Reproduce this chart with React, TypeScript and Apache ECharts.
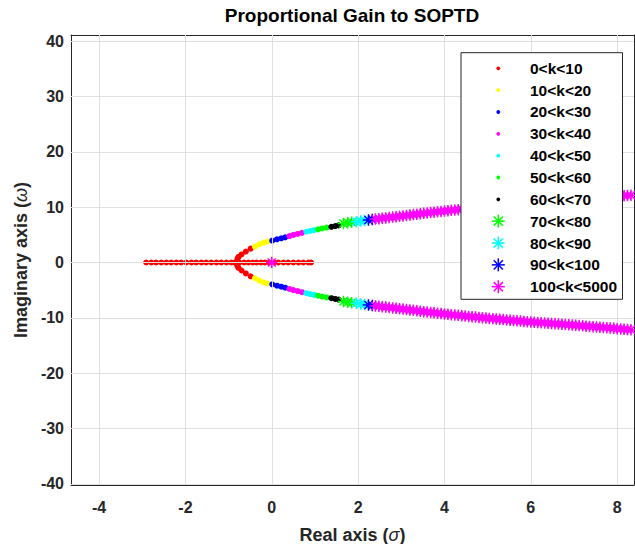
import React, { useEffect, useRef } from "react";
import * as echarts from "echarts";

// ---- axis ranges & ticks ----
const X_MIN = -4.65;
const X_MAX = 8.39;
const Y_MIN = -40.2;
const Y_MAX = 41.1;
const xTicks = [-4, -2, 0, 2, 4, 6, 8];
const yTicks = [-40, -30, -20, -10, 0, 10, 20, 30, 40];

// ---- legend / groups ----
const groupNames = [
  "0<k<10", "10<k<20", "20<k<30", "30<k<40", "40<k<50", "50<k<60",
  "60<k<70", "70<k<80", "80<k<90", "90<k<100", "100<k<5000",
];
const groupColors = [
  "#ff0000", "#ffff00", "#0000ff", "#ff00ff", "#00ffff", "#00ff00",
  "#000000", "#00ff00", "#00ffff", "#0000ff", "#ff00ff",
];
const groupMarkers = ["dot", "dot", "dot", "dot", "dot", "dot", "dot", "star", "star", "star", "star"];

// ---- root locus points (real part, imaginary part) ----
// 0<k<10
const reK0 = [
  -2.91, -2.79, -2.68, -2.56, -2.44, -2.33, -2.21, -2.1, -1.98, -1.86, -1.75, -1.63, -1.52, -1.4, -1.28, -1.17, -1.05, -0.94, -0.86,
  -0.82, -0.8, -0.8, -0.79, -0.79, -0.77, -0.77, -0.75, -0.7, -0.7, -0.6, -0.6, -0.49, -0.49,
  -0.64, -0.54, -0.44, -0.35, -0.25, -0.16, -0.06, 0.05, 0.15, 0.27, 0.38, 0.5, 0.62, 0.73, 0.85, 0.91,
];
const imK0 = [
  0, 0, 0, 0, 0, 0, 0, 0, 0, 0, 0, 0, 0, 0, 0, 0, 0, 0, 0,
  0, 0.35, -0.35, 0.7, -0.7, 1.0, -1.0, 0, 1.45, -1.45, 1.98, -1.98, 2.5, -2.5,
  0, 0, 0, 0, 0, 0, 0, 0, 0, 0, 0, 0, 0, 0, 0, 0,
];
// 10<k<20
const reK10 = [-0.39, -0.29, -0.19, -0.1, -0.39, -0.29, -0.19, -0.1];
const imK10 = [2.85, 3.28, 3.58, 3.8, -2.85, -3.28, -3.58, -3.8];
// 20<k<30
const reK20 = [0.01, 0.12, 0.22, 0.31, 0.01, 0.12, 0.22, 0.31];
const imK20 = [3.95, 4.19, 4.37, 4.55, -3.95, -4.19, -4.37, -4.55];
// 30<k<40
const reK30 = [0.41, 0.5, 0.6, 0.7, 0.41, 0.5, 0.6, 0.7];
const imK30 = [4.78, 4.98, 5.16, 5.36, -4.78, -4.98, -5.16, -5.36];
// 40<k<50
const reK40 = [0.8, 0.89, 0.98, 0.8, 0.89, 0.98];
const imK40 = [5.55, 5.7, 5.85, -5.55, -5.7, -5.85];
// 50<k<60
const reK50 = [1.07, 1.17, 1.27, 1.07, 1.17, 1.27];
const imK50 = [6.0, 6.15, 6.3, -6.0, -6.15, -6.3];
// 60<k<70
const reK60 = [1.38, 1.47, 1.55, 1.38, 1.47, 1.55];
const imK60 = [6.45, 6.58, 6.7, -6.45, -6.58, -6.7];
// 70<k<80
const reK70 = [1.66, 1.76, 1.85, 1.66, 1.76, 1.85];
const imK70 = [7.05, 7.17, 7.27, -7.05, -7.17, -7.27];
// 80<k<90
const reK80 = [1.96, 2.06, 2.15, 1.96, 2.06, 2.15];
const imK80 = [7.37, 7.48, 7.58, -7.37, -7.48, -7.58];
// 90<k<100
const reK90 = [2.24, 2.33, 2.24, 2.33];
const imK90 = [7.67, 7.77, -7.67, -7.77];
// 100<k<5000 (branch real parts shared by the conjugate pair, plus the root at the origin)
const reK100Branch = [
  2.4, 2.48, 2.56, 2.64, 2.72, 2.8, 2.88, 2.96, 3.04, 3.12, 3.2, 3.28, 3.36, 3.44, 3.52, 3.6, 3.68, 3.76, 3.84, 3.92,
  4.0, 4.08, 4.16, 4.24, 4.32, 4.4, 4.48, 4.56, 4.64, 4.72, 4.8, 4.88, 4.96, 5.04, 5.12, 5.2, 5.28, 5.36, 5.44, 5.52,
  5.6, 5.68, 5.76, 5.84, 5.92, 6.0, 6.08, 6.16, 6.24, 6.32, 6.4, 6.48, 6.56, 6.64, 6.72, 6.8, 6.88, 6.96, 7.04, 7.12,
  7.2, 7.28, 7.36, 7.44, 7.52, 7.6, 7.68, 7.76, 7.84, 7.92, 8.0, 8.08, 8.16, 8.24, 8.32, 8.4, 8.48,
];
const imK100Upper = [
  7.84, 7.92, 7.99, 8.06, 8.13, 8.2, 8.27, 8.34, 8.42, 8.5, 8.57, 8.65, 8.73, 8.8, 8.88, 8.95, 9.02, 9.09, 9.16, 9.23,
  9.3, 9.36, 9.43, 9.49, 9.55, 9.62, 9.68, 9.74, 9.8, 9.86, 9.92, 9.98, 10.04, 10.1, 10.15, 10.21, 10.27, 10.32, 10.38, 10.43,
  10.48, 10.54, 10.59, 10.64, 10.69, 10.74, 10.79, 10.84, 10.89, 10.93, 10.98, 11.03, 11.07, 11.12, 11.16, 11.21, 11.26, 11.3, 11.35, 11.4,
  11.45, 11.5, 11.55, 11.6, 11.65, 11.7, 11.75, 11.8, 11.85, 11.9, 11.95, 12.0, 12.05, 12.1, 12.16, 12.22, 12.28,
];
const imK100Lower = [
  -7.84, -7.92, -7.99, -8.06, -8.13, -8.2, -8.27, -8.34, -8.42, -8.5, -8.57, -8.65, -8.73, -8.8, -8.88, -8.95, -9.02, -9.09, -9.16, -9.23,
  -9.3, -9.36, -9.43, -9.49, -9.55, -9.62, -9.68, -9.74, -9.8, -9.86, -9.92, -9.98, -10.04, -10.1, -10.15, -10.21, -10.27, -10.32, -10.38, -10.43,
  -10.48, -10.54, -10.59, -10.64, -10.69, -10.74, -10.79, -10.84, -10.89, -10.93, -10.98, -11.03, -11.07, -11.12, -11.16, -11.21, -11.26, -11.3, -11.35, -11.4,
  -11.45, -11.5, -11.55, -11.6, -11.65, -11.7, -11.75, -11.8, -11.85, -11.9, -11.95, -12.0, -12.05, -12.1, -12.16, -12.22, -12.28,
];
const reK100Origin = [0];
const imK100Origin = [0];

const pairs = (re: number[], im: number[]) => re.map((r, i) => [r, im[i]]);

const groupData = [
  pairs(reK0, imK0),
  pairs(reK10, imK10),
  pairs(reK20, imK20),
  pairs(reK30, imK30),
  pairs(reK40, imK40),
  pairs(reK50, imK50),
  pairs(reK60, imK60),
  pairs(reK70, imK70),
  pairs(reK80, imK80),
  pairs(reK90, imK90),
  [...pairs(reK100Origin, imK100Origin), ...pairs(reK100Branch, imK100Upper), ...pairs(reK100Branch, imK100Lower)],
];

const FONT = "'Liberation Sans', Arial, Helvetica, sans-serif";
const STAR = "path://M5,0L5,10M0,5L10,5M1.5,1.5L8.5,8.5M1.5,8.5L8.5,1.5";
const AX = "#262626";

export default function App() {
  const ref = useRef<HTMLDivElement>(null);

  useEffect(() => {
    if (!ref.current) return;
    const chart = echarts.init(ref.current, undefined, { renderer: "svg" });

    const series: any[] = [
      {
        type: "scatter",
        name: "grid",
        data: [],
        z: 1,
        silent: true,
        markLine: {
          silent: true,
          symbol: ["none", "none"],
          animation: false,
          label: { show: false },
          lineStyle: { color: "#dfdfdf", width: 1, type: "solid" },
          emphasis: { disabled: true },
          data: [
            ...xTicks.map((v) => ({ xAxis: v })),
            ...yTicks.map((v) => ({ yAxis: v })),
          ],
        },
      },
    ];

    groupNames.forEach((name, gi) => {
      const isStar = groupMarkers[gi] === "star";
      series.push({
        type: "scatter",
        name,
        data: groupData[gi],
        z: 2 + gi,
        symbol: isStar ? STAR : "circle",
        symbolSize: isStar ? 11.5 : 6,
        symbolKeepAspect: true,
        itemStyle: isStar
          ? { color: "rgba(0,0,0,0)", borderColor: groupColors[gi], borderWidth: 1.5, opacity: 1 }
          : { color: groupColors[gi], opacity: 1 },
        emphasis: { disabled: true },
      });
    });

    // legend built from the group arrays
    const LX = 461, LY = 52.7, LW = 161.5, LH = 246.6;
    const firstY = 68.3, rowGap = 21.84, symX = 498.3, textX = 530;
    const ZL = 100;
    const legendChildren: any[] = [
      {
        type: "rect",
        z: ZL,
        shape: { x: LX, y: LY, width: LW, height: LH },
        style: { fill: "#ffffff", stroke: AX, lineWidth: 1 },
      },
    ];
    groupNames.forEach((name, gi) => {
      const cy = firstY + gi * rowGap;
      const c = groupColors[gi];
      if (groupMarkers[gi] === "star") {
        const r = 6.5, d = 4.6;
        legendChildren.push(
          { type: "line", z: ZL + 1, shape: { x1: symX, y1: cy - r, x2: symX, y2: cy + r }, style: { stroke: c, lineWidth: 1.5 } },
          { type: "line", z: ZL + 1, shape: { x1: symX - r, y1: cy, x2: symX + r, y2: cy }, style: { stroke: c, lineWidth: 1.5 } },
          { type: "line", z: ZL + 1, shape: { x1: symX - d, y1: cy - d, x2: symX + d, y2: cy + d }, style: { stroke: c, lineWidth: 1.5 } },
          { type: "line", z: ZL + 1, shape: { x1: symX - d, y1: cy + d, x2: symX + d, y2: cy - d }, style: { stroke: c, lineWidth: 1.5 } }
        );
      } else {
        legendChildren.push({ type: "circle", z: ZL + 1, shape: { cx: symX, cy, r: 1.9 }, style: { fill: c } });
      }
      legendChildren.push({
        type: "text",
        z: ZL + 1,
        x: textX,
        y: cy,
        style: {
          text: name,
          fill: "#000000",
          font: `bold 15.5px ${FONT}`,
          verticalAlign: "middle",
          align: "left",
        },
      });
    });

    const axisCommon = {
      type: "value",
      axisLine: { show: true, onZero: false, lineStyle: { color: AX, width: 1 } },
      splitLine: { show: false },
    };

    chart.setOption({
      animation: false,
      backgroundColor: "#ffffff",
      title: {
        text: "Proportional Gain to SOPTD",
        left: 352,
        top: 6,
        padding: 0,
        textAlign: "center",
        textStyle: { fontSize: 19, fontWeight: "bold", color: "#000000", fontFamily: FONT },
      },
      grid: { left: 71, right: 1, top: 35, bottom: 59, containLabel: false, outerBoundsMode: "none" },
      xAxis: [
        {
          ...axisCommon,
          min: X_MIN,
          max: X_MAX,
          position: "bottom",
          axisTick: { show: true, inside: true, length: 5, customValues: xTicks, lineStyle: { color: AX } },
          axisLabel: {
            show: true,
            customValues: xTicks,
            margin: 14,
            fontSize: 16,
            fontWeight: "bold",
            color: AX,
            fontFamily: FONT,
          },
          name: "Real axis ({i|σ})",
          nameLocation: "middle",
          nameGap: 41,
          nameTextStyle: {
            fontSize: 18,
            fontWeight: "bold",
            color: AX,
            fontFamily: FONT,
            rich: { i: { fontSize: 18, fontStyle: "italic", fontWeight: "normal", color: AX, fontFamily: FONT } },
          },
        },
        {
          ...axisCommon,
          min: X_MIN,
          max: X_MAX,
          position: "top",
          axisTick: { show: true, inside: true, length: 5, customValues: xTicks, lineStyle: { color: AX } },
          axisLabel: { show: false },
        },
      ],
      yAxis: [
        {
          ...axisCommon,
          min: Y_MIN,
          max: Y_MAX,
          position: "left",
          axisTick: { show: true, inside: true, length: 5, customValues: yTicks, lineStyle: { color: AX } },
          axisLabel: {
            show: true,
            customValues: yTicks,
            margin: 7,
            fontSize: 16,
            fontWeight: "bold",
            color: AX,
            fontFamily: FONT,
          },
          name: "Imaginary axis ({i|ω})",
          nameLocation: "middle",
          nameGap: 39,
          nameTextStyle: {
            fontSize: 18,
            fontWeight: "bold",
            color: AX,
            fontFamily: FONT,
            rich: { i: { fontSize: 18, fontStyle: "italic", fontWeight: "normal", color: AX, fontFamily: FONT } },
          },
        },
        {
          ...axisCommon,
          min: Y_MIN,
          max: Y_MAX,
          position: "right",
          axisTick: { show: true, inside: true, length: 5, customValues: yTicks, lineStyle: { color: AX } },
          axisLabel: { show: false },
        },
      ],
      series,
      graphic: { elements: [{ type: "group", children: legendChildren }] },
    });

    return () => chart.dispose();
  }, []);

  return <div ref={ref} style={{ position: "fixed", left: 0, top: 0, width: 635, height: 544 }} />;
}
